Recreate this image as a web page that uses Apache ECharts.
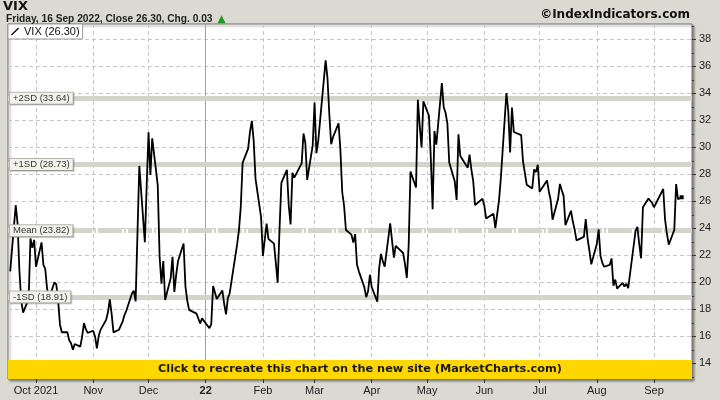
<!DOCTYPE html>
<html><head><meta charset="utf-8">
<script src="https://cdn.jsdelivr.net/npm/echarts@6/dist/echarts.min.js"></script>
<style>html,body{margin:0;padding:0;background:#dad9d2}#c{width:720px;height:400px}</style>
</head><body><div id="c"></div><script>
const tradeDates = [
'2021-09-17','2021-09-20','2021-09-21','2021-09-22','2021-09-23','2021-09-24','2021-09-27','2021-09-28','2021-09-29','2021-09-30',
'2021-10-01','2021-10-04','2021-10-05','2021-10-06','2021-10-07','2021-10-08','2021-10-11','2021-10-12','2021-10-13','2021-10-14','2021-10-15','2021-10-18','2021-10-19','2021-10-20','2021-10-21','2021-10-22','2021-10-25','2021-10-26','2021-10-27','2021-10-28','2021-10-29',
'2021-11-01','2021-11-02','2021-11-03','2021-11-04','2021-11-05','2021-11-08','2021-11-09','2021-11-10','2021-11-11','2021-11-12','2021-11-15','2021-11-16','2021-11-17','2021-11-18','2021-11-19','2021-11-22','2021-11-23','2021-11-24','2021-11-26','2021-11-29','2021-11-30',
'2021-12-01','2021-12-02','2021-12-03','2021-12-06','2021-12-07','2021-12-08','2021-12-09','2021-12-10','2021-12-13','2021-12-14','2021-12-15','2021-12-16','2021-12-17','2021-12-20','2021-12-21','2021-12-22','2021-12-23','2021-12-27','2021-12-28','2021-12-29','2021-12-30','2021-12-31',
'2022-01-03','2022-01-04','2022-01-05','2022-01-06','2022-01-07','2022-01-10','2022-01-11','2022-01-12','2022-01-13','2022-01-14','2022-01-18','2022-01-19','2022-01-20','2022-01-21','2022-01-24','2022-01-25','2022-01-26','2022-01-27','2022-01-28','2022-01-31',
'2022-02-01','2022-02-02','2022-02-03','2022-02-04','2022-02-07','2022-02-08','2022-02-09','2022-02-10','2022-02-11','2022-02-14','2022-02-15','2022-02-16','2022-02-17','2022-02-18','2022-02-22','2022-02-23','2022-02-24','2022-02-25','2022-02-28',
'2022-03-01','2022-03-02','2022-03-03','2022-03-04','2022-03-07','2022-03-08','2022-03-09','2022-03-10','2022-03-11','2022-03-14','2022-03-15','2022-03-16','2022-03-17','2022-03-18','2022-03-21','2022-03-22','2022-03-23','2022-03-24','2022-03-25','2022-03-28','2022-03-29','2022-03-30','2022-03-31',
'2022-04-01','2022-04-04','2022-04-05','2022-04-06','2022-04-07','2022-04-08','2022-04-11','2022-04-12','2022-04-13','2022-04-14','2022-04-18','2022-04-19','2022-04-20','2022-04-21','2022-04-22','2022-04-25','2022-04-26','2022-04-27','2022-04-28','2022-04-29',
'2022-05-02','2022-05-03','2022-05-04','2022-05-05','2022-05-06','2022-05-09','2022-05-10','2022-05-11','2022-05-12','2022-05-13','2022-05-16','2022-05-17','2022-05-18','2022-05-19','2022-05-20','2022-05-23','2022-05-24','2022-05-25','2022-05-26','2022-05-27','2022-05-31',
'2022-06-01','2022-06-02','2022-06-03','2022-06-06','2022-06-07','2022-06-08','2022-06-09','2022-06-10','2022-06-13','2022-06-14','2022-06-15','2022-06-16','2022-06-17','2022-06-21','2022-06-22','2022-06-23','2022-06-24','2022-06-27','2022-06-28','2022-06-29','2022-06-30',
'2022-07-01','2022-07-05','2022-07-06','2022-07-07','2022-07-08','2022-07-11','2022-07-12','2022-07-13','2022-07-14','2022-07-15','2022-07-18','2022-07-19','2022-07-20','2022-07-21','2022-07-22','2022-07-25','2022-07-26','2022-07-27','2022-07-28','2022-07-29',
'2022-08-01','2022-08-02','2022-08-03','2022-08-04','2022-08-05','2022-08-08','2022-08-09','2022-08-10','2022-08-11','2022-08-12','2022-08-15','2022-08-16','2022-08-17','2022-08-18','2022-08-19','2022-08-22','2022-08-23','2022-08-24','2022-08-25','2022-08-26','2022-08-29','2022-08-30','2022-08-31',
'2022-09-01','2022-09-02','2022-09-06','2022-09-07','2022-09-08','2022-09-09','2022-09-12','2022-09-13','2022-09-14','2022-09-15','2022-09-16'
];
const vixClose = [
20.81,25.71,24.36,20.87,18.63,17.75,18.76,23.25,22.56,23.14,
21.15,22.96,21.30,21.00,19.54,18.77,20.00,19.85,18.64,16.86,16.30,16.30,15.70,15.49,15.01,15.43,15.24,15.98,16.98,16.53,16.26,
16.41,15.99,15.10,16.04,16.48,17.22,17.78,18.73,17.66,16.29,16.49,16.37,17.11,17.59,17.91,19.17,19.38,18.58,28.62,22.96,27.19,
31.12,27.95,30.67,27.18,21.89,19.90,21.58,18.69,20.31,21.89,19.29,20.57,21.57,22.87,19.70,18.63,17.96,17.68,17.54,16.95,17.33,17.22,
16.60,16.91,19.73,19.61,18.76,19.40,18.41,17.62,18.83,19.19,22.79,23.85,25.59,28.85,29.90,31.16,31.96,30.49,27.66,24.83,
21.96,22.09,24.35,23.22,22.86,21.44,19.96,23.91,27.36,28.33,25.70,24.29,28.11,27.75,28.81,31.02,30.32,27.59,30.15,
33.32,29.57,30.48,31.98,36.45,35.13,32.45,30.23,30.75,31.77,29.83,26.67,25.67,23.87,23.53,22.94,23.57,21.30,20.81,19.63,18.90,19.33,20.56,
19.63,18.57,21.03,22.10,21.55,21.16,24.37,24.26,21.82,22.70,22.17,21.37,20.32,22.68,28.21,27.02,33.52,31.60,29.99,33.40,
32.34,29.25,25.42,31.20,30.19,34.75,32.99,32.56,31.77,28.87,27.47,26.10,30.96,29.35,29.43,28.48,29.45,28.37,27.50,25.72,26.19,
25.69,24.72,24.79,25.07,24.02,23.96,26.09,27.75,34.02,32.69,29.62,32.95,31.13,30.90,28.95,29.05,27.23,26.95,28.36,28.16,28.71,
26.70,27.54,26.73,26.08,24.64,26.17,27.29,26.82,26.40,24.23,25.30,24.50,23.88,23.11,23.03,23.36,24.69,23.24,22.33,21.33,
22.84,23.93,21.95,21.44,21.15,21.29,21.77,19.74,20.20,19.53,19.95,19.69,19.90,19.56,20.60,23.80,24.11,22.82,21.78,25.56,26.21,26.21,25.87,
25.56,25.47,26.91,24.64,23.61,22.79,23.87,27.27,26.16,26.27,26.30
];
const bandNames = ['+2SD', '+1SD', 'Mean', '-1SD'];
const bandValues = [33.64, 28.73, 23.82, 18.91];
const monthTicks = ['2021-10-01','2021-11-01','2021-12-01','2022-01-01','2022-02-01','2022-03-01','2022-04-01','2022-05-01','2022-06-01','2022-07-01','2022-08-01','2022-09-01'];
const monthLabels = ['Oct 2021','Nov','Dec','22','Feb','Mar','Apr','May','Jun','Jul','Aug','Sep'];
const yTicks = [14,16,18,20,22,24,26,28,30,32,34,36,38];
const bannerText = 'Click to recreate this chart on the new site (MarketCharts.com)';

function ts(s){ const p = s.split('-'); return new Date(+p[0], +p[1]-1, +p[2]).getTime(); }
const n = vixClose.length;
const last = vixClose[n-1], prev = vixClose[n-2];
const lastTs = ts(tradeDates[n-1]);
const lastD = new Date(lastTs);
const dayNames = ['Sunday','Monday','Tuesday','Wednesday','Thursday','Friday','Saturday'];
const monNames = ['Jan','Feb','Mar','Apr','May','Jun','Jul','Aug','Sep','Oct','Nov','Dec'];
const headerText = dayNames[lastD.getDay()] + ', ' + lastD.getDate() + ' ' + monNames[lastD.getMonth()] + ' ' + lastD.getFullYear() +
  ', Close ' + last.toFixed(2) + ', Chg. ' + (last - prev).toFixed(2);
const seriesName = 'VIX (' + last.toFixed(2) + ')';
const seriesData = tradeDates.map((d, i) => [ts(d), vixClose[i]]);
const monthTs = monthTicks.map(ts);
const yMin = 12.837, yMax = 39.133, bannerTop = 14.24;
const xMin = new Date(2021, 8, 15, 19, 40).getTime();
const xMax = new Date(2022, 8, 21, 14, 25).getTime();

const bandLines = bandValues.map((v, i) => ({
  yAxis: v,
  lineStyle: { color: '#d5d4ca', width: 5, type: i === 2 ? [24, 2, 2, 2] : 'solid' },
  label: { show: false }
}));
const bandLabelLines = bandValues.map((v, i) => ({
  yAxis: v,
  lineStyle: { color: 'rgba(0,0,0,0)', width: 1 },
  label: { formatter: bandNames[i] + ' (' + v.toFixed(2) + ')' }
}));

const chart = echarts.init(document.getElementById('c'), null, { renderer: 'canvas' });
chart.setOption({
  animation: false,
  backgroundColor: '#dad9d2',
  title: [
    { text: 'VIX', left: 3, top: 0, padding: 0,
      textStyle: { fontFamily: 'DejaVu Sans', fontWeight: 'bold', fontSize: 13, color: '#111' } },
    { text: '{a|' + headerText + '} {g|▲}', left: 6, top: 10, padding: 0,
      textStyle: { rich: {
        a: { fontFamily: 'Liberation Sans', fontSize: 10.2, color: '#222' },
        g: { fontFamily: 'DejaVu Sans', fontSize: 10.5, color: '#1f9c1f' } } } },
    { text: '©IndexIndicators.com', right: 30, top: 9, padding: 0,
      textStyle: { fontFamily: 'DejaVu Sans', fontWeight: 'bold', fontSize: 12, color: '#111' } }
  ],
  legend: {
    left: 8, top: 24, padding: [2, 3, 2, 3], backgroundColor: '#fff', borderColor: '#9a9a9a', borderWidth: 1,
    itemWidth: 8, itemHeight: 8, selectedMode: false,
    textStyle: { fontFamily: 'Liberation Sans', fontSize: 11, color: '#111' },
    data: [{ name: seriesName, icon: 'path://M0,9L8,1L9,2L1,10Z' }]
  },
  grid: {
    left: 8, right: 28, top: 24, bottom: 21, show: true, backgroundColor: '#fff',
    borderColor: '#6e6e6e', borderWidth: 1,
    shadowColor: 'rgba(0,0,0,0.35)', shadowOffsetX: 2, shadowOffsetY: 2, shadowBlur: 2
  },
  xAxis: {
    type: 'value', min: xMin, max: xMax, scale: true,
    axisLine: { show: false },
    axisTick: { show: true, length: 4, customValues: monthTs, lineStyle: { color: '#333' } },
    axisLabel: {
      customValues: monthTs, margin: 6, fontFamily: 'Liberation Sans', fontSize: 11, color: '#222',
      formatter: function (v) {
        let i = -1;
        for (let k = 0; k < monthTs.length; k++) { if (Math.abs(monthTs[k] - v) < 3600000) { i = k; break; } }
        const lab = i >= 0 ? monthLabels[i] : '';
        return lab === '22' ? '{b|22}' : lab;
      },
      rich: { b: { fontFamily: 'Liberation Sans', fontSize: 11, fontWeight: 'bold', color: '#222' } }
    },
    splitLine: { show: true, lineStyle: { color: '#c6c6c6', type: [4, 3], width: 1 } }
  },
  yAxis: {
    type: 'value', position: 'right', min: yMin, max: yMax, splitNumber: 13, minInterval: 2, maxInterval: 2,
    axisLine: { show: false },
    axisTick: { show: true, length: 4, customValues: yTicks, lineStyle: { color: '#333' } },
    minorTick: { show: true, splitNumber: 2, length: 2, lineStyle: { color: '#333' } },
    axisLabel: { customValues: yTicks, margin: 7, fontFamily: 'Liberation Sans', fontSize: 11, color: '#222' },
    splitLine: { show: true, lineStyle: { color: '#c6c6c6', type: [4, 3], width: 1 } }
  },
  series: [
    {
      name: 'bands', type: 'line', data: [], z: 1, silent: true,
      markLine: {
        z: 1, silent: true, symbol: ['none', 'none'], animation: false,
        data: [
          { xAxis: ts('2022-01-01'), lineStyle: { color: '#a2a2a2', width: 1, type: 'solid' }, label: { show: false } }
        ].concat(bandLines)
      }
    },
    {
      name: seriesName, type: 'line', data: seriesData, z: 3,
      showSymbol: false, symbol: 'none',
      lineStyle: { color: '#000', width: 1.8 }, itemStyle: { color: '#000' },
      markArea: {
        z: 4, silent: true,
        itemStyle: { color: '#ffd700' },
        label: { show: true, position: 'inside', formatter: bannerText, offset: [10, 0],
          fontFamily: 'DejaVu Sans', fontWeight: 'bold', fontSize: 11.3, color: '#1a1a1a' },
        data: [[{ yAxis: yMin }, { yAxis: bannerTop }]]
      },
      markPoint: {
        z: 5, silent: true, symbol: 'rect', symbolSize: [4, 4], label: { show: false },
        itemStyle: { color: '#000' },
        data: [{ coord: [lastTs, last] }]
      }
    },
    {
      name: 'bandLabels', type: 'line', data: [], z: 6, silent: true,
      markLine: {
        z: 6, silent: true, symbol: ['none', 'none'], animation: false,
        label: {
          show: true, position: 'insideStart', distance: 2,
          fontFamily: 'Liberation Sans', fontSize: 9.5, color: '#333',
          backgroundColor: '#f3f3ee', borderColor: '#b4b4aa', borderWidth: 1, padding: [1, 3, 0, 3],
          shadowColor: 'rgba(0,0,0,0.15)', shadowOffsetX: 1, shadowOffsetY: 1, shadowBlur: 0
        },
        data: bandLabelLines
      }
    }
  ]
});
</script></body></html>
